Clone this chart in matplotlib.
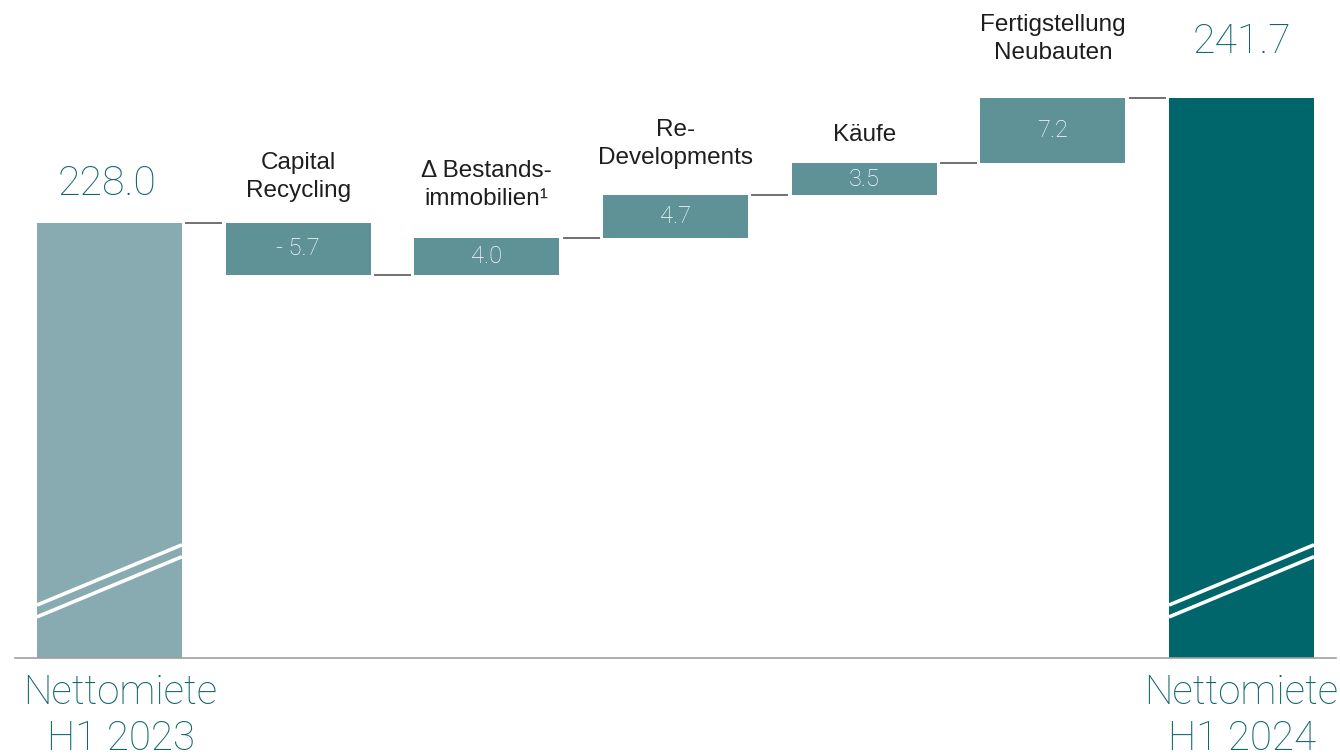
import matplotlib
matplotlib.use("Agg")
import matplotlib.pyplot as plt

# Nettomiete bridge H1 2023 -> H1 2024 (EUR m)
start_label = "Nettomiete\nH1 2023"
end_label = "Nettomiete\nH1 2024"
start_value = 228.0
end_value = 241.7
step_labels = ["Capital\nRecycling", "\u0394 Bestands-\nimmobilien\u00b9",
               "Re-\nDevelopments", "K\u00e4ufe", "Fertigstellung\nNeubauten"]
step_values = [-5.7, 4.0, 4.7, 3.5, 7.2]

# the value axis is cut, totals start from here
y_floor = 180.3
y_top = 252.4

# gap (pt) between each step bar and its caption
label_pads = [15, 20, 19, 12.5, 24]

c_start = "#88abb1"
c_step = "#5f9297"
c_end = "#00666b"
c_total_txt = "#0f666b"
c_txt = "#1e1e1e"
c_conn = "#4a4a4a"

font = {"family": "Liberation Sans"}
thin = {"family": "Roboto", "weight": "light"}

fig = plt.figure(figsize=(13.4, 7.56), dpi=100)
ax = fig.add_axes([0, 98 / 756, 1, 658 / 756])
ax.set_xlim(-0.58, 6.522)
ax.set_ylim(y_floor, y_top)
ax.axis("off")

w = 0.7685
n = len(step_values)
x_end = n + 1

# totals
ax.bar(0, start_value - y_floor, bottom=y_floor, width=w, color=c_start)
ax.bar(x_end, end_value - y_floor, bottom=y_floor, width=w, color=c_end)

# steps
levels = [start_value]
level = start_value
for i, v in enumerate(step_values):
    x = i + 1
    bottom = level if v > 0 else level + v
    ax.bar(x, abs(v), bottom=bottom, width=w, color=c_step)
    txt = f"{v:.1f}" if v > 0 else f"- {abs(v):.1f}"
    ax.text(x, bottom + abs(v) / 2, txt, ha="center", va="center",
            color="white", fontsize=17, **thin)
    ax.annotate(step_labels[i], (x, bottom + abs(v)), xytext=(0, label_pads[i]),
                textcoords="offset points", ha="center", va="bottom",
                color=c_txt, fontsize=17.5, linespacing=1.37, **font)
    level += v
    levels.append(level)

# connectors between neighbouring bars
gap = 0.018
for i, lv in enumerate(levels):
    ax.plot([i + w / 2 + gap, i + 1 - w / 2 - gap], [lv, lv],
            color=c_conn, lw=1.1, solid_capstyle="butt")

# cut marks on the total bars
for x in (0, x_end):
    for off in (0, -1.3):
        ax.plot([x - w / 2, x + w / 2],
                [y_floor + 5.8 + off, y_floor + 12.4 + off],
                color="white", lw=2.6, solid_capstyle="butt")

# total values
ax.annotate(f"{start_value:.1f}", (0, start_value), xytext=(-2, 20),
            textcoords="offset points", ha="center", va="baseline",
            color=c_total_txt, fontsize=29.5, **thin)
ax.annotate(f"{end_value:.1f}", (x_end, end_value), xytext=(0, 32),
            textcoords="offset points", ha="center", va="baseline",
            color=c_total_txt, fontsize=29.5, **thin)

# base line
ax.plot([-0.5, 6.5], [y_floor, y_floor], color="#a0a0a0", lw=1.2,
        clip_on=False)

# category labels under the totals
ax.annotate(start_label, (0, y_floor), xytext=(8, -11),
            textcoords="offset points", ha="center", va="top",
            color=c_total_txt, fontsize=29, linespacing=1.24,
            annotation_clip=False, **thin)
ax.annotate(end_label, (x_end, y_floor), xytext=(0, -11),
            textcoords="offset points", ha="center", va="top",
            color=c_total_txt, fontsize=29, linespacing=1.24,
            annotation_clip=False, **thin)

fig.savefig("out.png", dpi=100)
